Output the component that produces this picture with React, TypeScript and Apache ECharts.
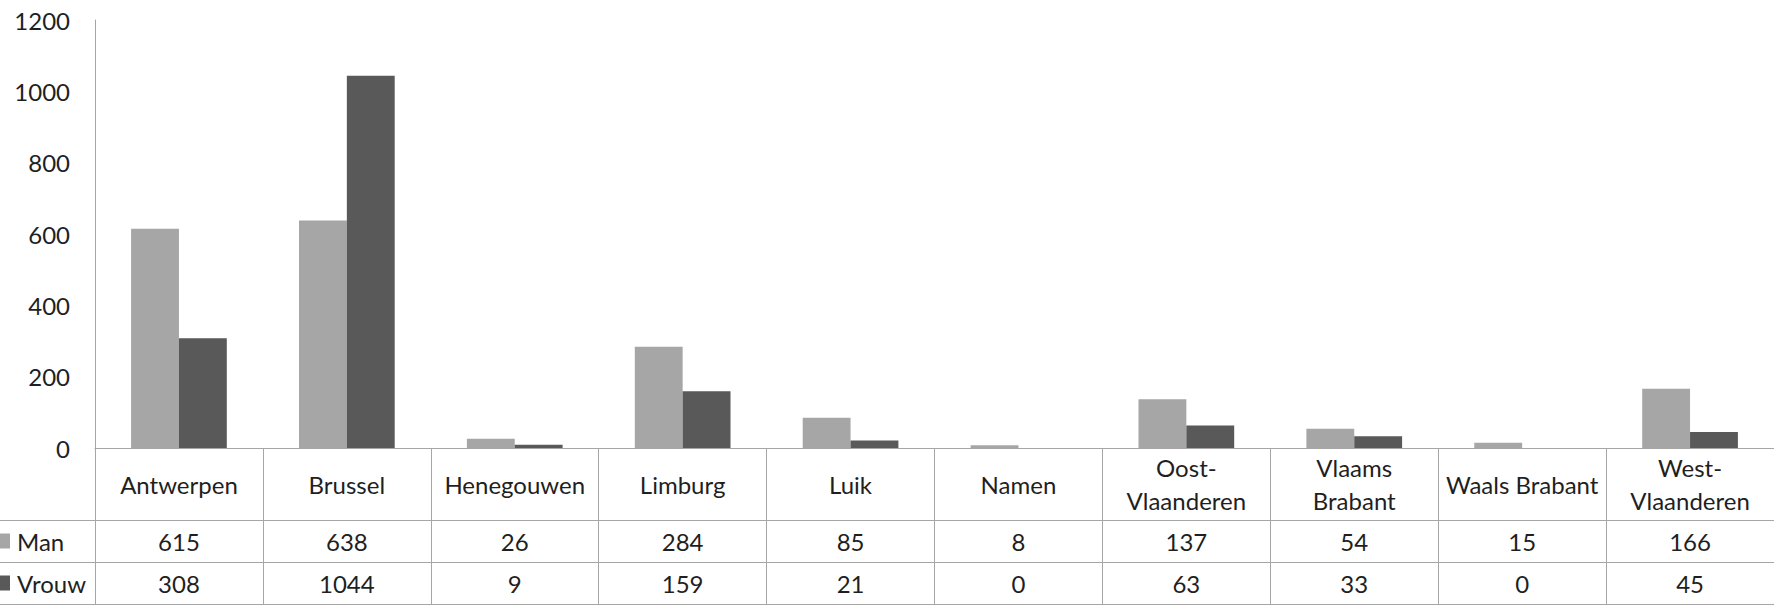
import React, { useEffect, useRef } from "react";
import * as echarts from "echarts";

const categories = [
  "Antwerpen",
  "Brussel",
  "Henegouwen",
  "Limburg",
  "Luik",
  "Namen",
  "Oost-\nVlaanderen",
  "Vlaams\nBrabant",
  "Waals Brabant",
  "West-\nVlaanderen",
];
const manValues = [615, 638, 26, 284, 85, 8, 137, 54, 15, 166];
const vrouwValues = [308, 1044, 9, 159, 21, 0, 63, 33, 0, 45];
const seriesNames = ["Man", "Vrouw"];
const seriesColors = ["#a6a6a6", "#595959"];
const yMin = 0;
const yMax = 1200;
const yInterval = 200;

const W = 1774;
const H = 605;
const FONT = "Lato, 'Open Sans', sans-serif";
const TEXT = "#1f1f1f";
const LINE = "#a6a6a6";

export default function App() {
  const ref = useRef<HTMLDivElement>(null);
  useEffect(() => {
    if (!ref.current) return;
    const chart = echarts.init(ref.current, undefined, { renderer: "svg" });
    const gridTop = 20;
    const gridBottom = 157;
    const axisY = H - gridBottom;
    const rowLines = [axisY + 72, axisY + 114, axisY + 156];
    const labelBase = {
      fontSize: 24,
      fontFamily: FONT,
      color: TEXT,
      interval: 0,
      verticalAlign: "middle" as const,
    };
    chart.setOption({
      animation: false,
      grid: { left: 95, right: 0, top: gridTop, bottom: gridBottom, containLabel: false },
      legend: {
        data: seriesNames,
        orient: "vertical",
        left: -5,
        top: axisY + 93 - 15,
        padding: 0,
        itemWidth: 15,
        itemHeight: 15,
        itemGap: 12,
        icon: "rect",
        selectedMode: false,
        textStyle: { fontSize: 24, fontFamily: FONT, color: TEXT, lineHeight: 30, padding: [0, 0, 0, 2] },
      },
      xAxis: [
        {
          type: "category",
          data: categories,
          position: "bottom",
          offset: 0,
          axisLine: { show: true, lineStyle: { color: LINE, width: 1 } },
          axisTick: { show: true, interval: 0, length: gridBottom, lineStyle: { color: LINE, width: 1 } },
          axisLabel: { ...labelBase, margin: 36, lineHeight: 33 },
          splitLine: { show: false },
        },
        {
          type: "category",
          data: categories,
          position: "bottom",
          offset: 0,
          axisLine: { show: false },
          axisTick: { show: false },
          axisLabel: { ...labelBase, margin: 93, formatter: (_v: string, i: number) => String(manValues[i]) },
          splitLine: { show: false },
        },
        {
          type: "category",
          data: categories,
          position: "bottom",
          offset: 0,
          axisLine: { show: false },
          axisTick: { show: false },
          axisLabel: { ...labelBase, margin: 135, formatter: (_v: string, i: number) => String(vrouwValues[i]) },
          splitLine: { show: false },
        },
      ],
      yAxis: {
        type: "value",
        min: yMin,
        max: yMax,
        interval: yInterval,
        axisLine: { show: true, lineStyle: { color: LINE, width: 1 } },
        axisTick: { show: false },
        splitLine: { show: false },
        axisLabel: {
          fontSize: 24,
          fontFamily: FONT,
          color: TEXT,
          margin: 25,
          formatter: (v: number) => String(v),
        },
      },
      series: [
        {
          name: seriesNames[0],
          type: "bar",
          xAxisIndex: 0,
          data: manValues,
          itemStyle: { color: seriesColors[0] },
          barGap: "0%",
          barCategoryGap: "43%",
        },
        {
          name: seriesNames[1],
          type: "bar",
          xAxisIndex: 0,
          data: vrouwValues,
          itemStyle: { color: seriesColors[1] },
          barGap: "0%",
          barCategoryGap: "43%",
        },
      ],
      graphic: rowLines.map((y) => ({
        type: "line",
        shape: { x1: 0, y1: y + 0.5, x2: W, y2: y + 0.5 },
        style: { stroke: LINE, lineWidth: 1 },
        silent: true,
      })),
    });
    return () => chart.dispose();
  }, []);
  return (
    <div
      ref={ref}
      style={{ position: "absolute", left: 0, top: 0, width: W, height: H, background: "#fff" }}
    />
  );
}
